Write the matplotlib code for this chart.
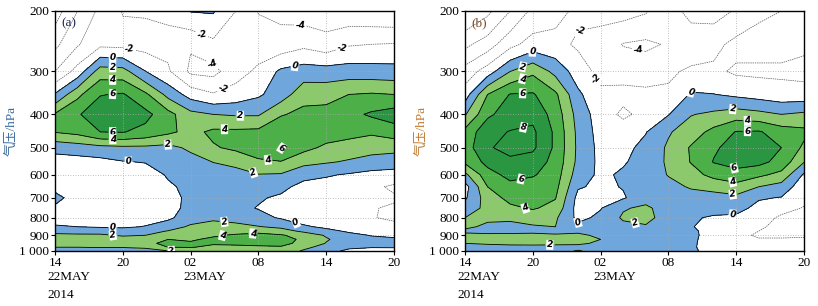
import numpy as np
import matplotlib
matplotlib.use("Agg")
import matplotlib.pyplot as plt

# hours after 22 May 2014 14:00 (BJT)
hours = [0, 2, 4, 6, 8, 10, 12, 14, 16, 18, 20, 22, 24, 26, 28, 30]
levels_hpa = [200, 250, 300, 350, 400, 450, 500, 550, 600, 650,
              700, 750, 800, 850, 875, 900, 925, 950, 975, 1000]

# one row per time column, values from 200 hPa down to 1000 hPa
vort_a = [
    [-9.0, -6.5, -4.0, 0.2, 4.2, 4.1, 0.6, -0.8, -0.8, -0.4, 0.4, -0.2, -0.8, 0.2, 1.4, 2.4, 3.0, 2.9, 2.0, 1.3],
    [-6.0, -4.2, -1.2, 3.5, 5.8, 4.6, 1.0, -0.8, -1.0, -1.0, -0.6, -0.6, -0.6, 0.0, 1.3, 2.3, 3.0, 3.0, 2.0, 1.3],
    [-3.5, -2.5, 3.0, 5.9, 7.2, 6.0, 1.4, -0.6, -1.0, -1.0, -0.8, -0.8, -0.6, -0.2, 1.2, 2.3, 3.0, 3.1, 2.1, 1.0],
    [-1.9, -2.6, 2.8, 6.2, 7.5, 6.1, 1.6, -0.1, -1.0, -1.2, -1.2, -1.0, -0.8, -0.3, 0.9, 1.8, 2.8, 3.0, 2.1, 0.9],
    [-1.8, -2.8, 0.05, 4.4, 6.6, 5.4, 1.6, 0.1, -1.0, -1.2, -1.2, -1.0, -0.8, 0.1, 1.2, 2.0, 3.2, 3.6, 2.4, 1.0],
    [-1.6, -2.6, -1.7, 1.4, 4.7, 4.4, 1.4, 0.1, 0.2, -0.3, -0.6, -0.5, -0.3, 0.8, 2.1, 2.9, 4.0, 4.4, 4.0, 1.9],
    [0.1, -3.8, -4.4, -0.8, 2.6, 3.4, 2.4, 1.2, 0.8, 0.5, 0.4, 0.4, 0.8, 2.4, 2.9, 3.3, 3.8, 4.2, 4.1, 2.3],
    [0.2, -2.5, -4.6, -1.8, 2.0, 4.4, 3.8, 2.05, 1.0, 0.6, 0.5, 0.6, 1.6, 2.8, 3.2, 3.8, 4.3, 4.2, 3.6, 2.4],
    [-2.0, -3.0, -2.8, -1.2, 1.8, 4.4, 4.4, 2.6, 1.2, 0.6, 0.4, 0.5, 1.2, 2.6, 3.4, 4.2, 4.5, 4.4, 3.5, 2.6],
    [-4.1, -3.0, -1.6, -0.3, 1.8, 4.5, 5.0, 3.7, 1.9, 0.8, 0.2, -0.1, 0.6, 2.1, 3.6, 4.4, 4.6, 4.5, 3.7, 2.8],
    [-4.5, -3.2, 0.4, 1.0, 3.8, 5.8, 6.1, 3.9, 1.8, 0.5, -0.3, -0.5, -0.2, 1.6, 2.8, 4.2, 4.4, 4.3, 3.9, 3.0],
    [-5.0, -2.5, 1.0, 3.2, 4.6, 5.4, 4.6, 2.6, 0.6, -0.6, -1.2, -1.4, -1.0, 0.3, 1.6, 3.2, 3.8, 3.7, 2.4, 1.8],
    [-5.2, -3.2, 0.9, 3.3, 4.7, 5.0, 3.6, 2.2, 0.2, -0.8, -1.4, -1.6, -1.4, -0.4, 0.6, 1.8, 2.2, 1.9, 1.4, 0.8],
    [-5.4, -2.2, 1.0, 4.0, 5.4, 4.8, 3.0, 1.8, -0.2, -1.2, -1.6, -1.8, -1.6, -0.8, -0.3, 0.6, 1.0, 0.8, 0.4, -0.5],
    [-5.6, -2.0, 0.9, 4.2, 6.3, 4.3, 2.8, 1.2, -0.6, -1.6, -1.9, -1.9, -1.9, -1.2, -0.7, -0.1, 0.5, 0.4, 0.1, -0.8],
    [-5.8, -1.9, 0.8, 4.0, 7.0, 5.0, 2.6, 1.0, -0.8, -2.3, -1.8, -2.2, -2.3, -1.5, -1.0, -0.4, 0.3, 0.5, 0.1, -0.6],
]

vort_b = [
    [-10.0, -6.5, -3.2, -1.0, 1.8, 4.6, 5.0, 4.4, 1.5, -0.8, -0.3, 0.8, 2.0, 2.4, 1.6, 2.5, 2.8, 2.0, 1.2, 0.8],
    [-8.5, -5.0, -1.0, 4.0, 5.6, 7.4, 7.8, 6.6, 5.2, 4.0, 3.0, 2.6, 2.4, 1.6, 1.4, 2.4, 2.8, 2.2, 1.4, 0.9],
    [-6.0, -2.6, 2.0, 6.1, 7.0, 8.1, 8.6, 7.6, 6.6, 5.4, 4.6, 3.6, 2.4, 1.4, 1.6, 2.3, 2.8, 2.4, 1.4, 1.0],
    [-3.5, -1.2, 3.6, 6.2, 7.4, 8.4, 8.4, 7.0, 6.2, 5.0, 4.6, 4.2, 2.8, 1.8, 1.6, 2.4, 2.8, 2.4, 1.5, 1.2],
    [-2.6, -1.4, 1.4, 4.4, 5.2, 5.6, 5.6, 5.4, 5.0, 4.6, 4.1, 3.4, 2.3, 2.0, 1.5, 2.2, 2.6, 2.3, 1.5, 1.6],
    [-1.6, -2.3, -1.0, 0.4, 1.2, 1.5, 1.6, 1.5, 1.0, 0.2, -0.6, -0.8, -0.5, 0.5, 1.6, 2.4, 2.6, 2.2, 1.6, 2.1],
    [-1.4, -2.8, -2.6, -1.6, -1.0, -0.8, -0.6, -0.5, -0.4, -0.4, -0.3, -0.1, 0.4, 0.8, 1.2, 1.6, 2.0, 1.8, 1.2, 1.6],
    [-1.2, -4.1, -2.8, -1.4, -2.4, -0.9, -0.6, -0.2, 0.3, 0.1, -0.2, 1.8, 2.3, 1.4, 1.2, 1.4, 1.6, 1.4, 1.0, 1.0],
    [-1.8, -4.4, -2.8, -1.6, -1.4, -0.1, 0.6, 0.8, 0.9, 0.9, 1.2, 2.4, 2.6, 1.8, 1.4, 1.2, 1.0, 0.8, 0.5, 0.4],
    [-3.6, -3.8, -2.4, -1.6, -0.1, 1.8, 2.3, 2.3, 2.1, 1.4, 1.0, 1.0, 1.1, 1.0, 0.9, 0.8, 0.7, 0.6, 0.4, 0.3],
    [-4.3, -3.4, -1.6, 0.2, 1.9, 3.0, 4.2, 4.1, 3.2, 2.2, 1.2, 0.8, 0.2, 0.1, 0.4, 0.5, 0.4, 0.3, 0.2, 0.2],
    [-4.8, -2.6, -1.6, 0.05, 2.4, 4.6, 5.7, 6.1, 4.6, 2.6, 1.3, 0.6, -0.2, -0.6, -0.8, -0.9, -0.9, -0.8, -0.6, -0.4],
    [-3.8, -1.4, -2.3, -0.4, 3.0, 6.1, 6.8, 6.6, 5.4, 3.2, 1.5, 0.7, -0.4, -1.0, -1.3, -1.6, -1.7, -1.6, -1.2, -0.8],
    [-2.4, -1.2, -2.4, -0.8, 2.6, 6.2, 6.8, 6.6, 4.4, 2.0, 0.2, -0.6, -1.2, -1.7, -2.0, -2.2, -1.9, -1.6, -1.2, -0.8],
    [-2.0, -1.2, -2.4, -1.2, 2.0, 5.0, 6.0, 5.3, 3.4, 1.2, -0.1, -1.4, -2.3, -2.6, -2.6, -2.4, -1.8, -1.4, -1.1, -0.8],
    [-1.5, -1.6, -2.6, -1.2, 2.4, 4.5, 3.6, 2.1, -0.3, -1.2, -1.6, -2.1, -2.5, -2.6, -2.6, -2.2, -1.8, -1.4, -1.1, -0.8],
]

xtick_hours = [0, 6, 12, 18, 24, 30]
xtick_labels = ["14", "20", "02", "08", "14", "20"]
ytick_hpa = [200, 300, 400, 500, 600, 700, 800, 900, 1000]
ytick_labels = ["200", "300", "400", "500", "600", "700", "800", "900", "1 000"]

line_levels = [-10, -8, -6, -4, -2, 0, 2, 4, 6, 8]
fill_levels = [0, 2, 4, 6, 100]
fill_colors = ["#6fa6dc", "#8cc86c", "#4caf48", "#2a9642"]

# label spots (hour, hPa)
spots_a = [(5.1, 272), (5.1, 288), (5.1, 306), (5.1, 345), (5.1, 452), (5.1, 482),
           (6.5, 550), (10.0, 490), (16.4, 410), (15.0, 438), (20.1, 505),
           (18.8, 556), (17.5, 598), (21.2, 280), (6.6, 262), (13.0, 232),
           (14.0, 275), (21.7, 228), (25.4, 256), (15.0, 345), (21.5, 812),
           (15.0, 818), (17.5, 885), (15.0, 925), (5.1, 866), (5.1, 905), (10.3, 999)]
spots_b = [(6.0, 268), (5.1, 290), (5.1, 315), (5.1, 342), (5.1, 422), (5.1, 640),
           (5.1, 775), (7.5, 945), (10.0, 825), (15.0, 835), (10.2, 228),
           (11.3, 325), (15.3, 266), (20.0, 342), (23.7, 385), (25.0, 413),
           (25.0, 442), (23.7, 590), (23.7, 626), (23.7, 682), (23.7, 788)]

serif = ["Liberation Serif", "Noto Sans CJK SC"]

fig = plt.figure(figsize=(8.18, 3.06), dpi=100)
axa = fig.add_axes([55 / 818, 1 - 251 / 306, 339 / 818, 240 / 306])
axb = fig.add_axes([465 / 818, 1 - 251 / 306, 339 / 818, 240 / 306])

T, P = np.meshgrid(hours, levels_hpa)

def draw(ax, field, tag, tagcolor, labcolor, spots):
    Z = np.array(field).T
    ax.contourf(T, P, Z, levels=fill_levels, colors=fill_colors)
    styles = [(0, (2.0, 1.2)) if v < 0 else "solid" for v in line_levels]
    cols = ["#555555" if v < 0 else "k" for v in line_levels]
    lws = [0.5 if v < 0 else 0.6 for v in line_levels]
    cs = ax.contour(T, P, Z, levels=line_levels, colors=cols,
                    linestyles=styles, linewidths=lws)
    txts = ax.clabel(cs, manual=spots, inline=True, inline_spacing=2,
                     fmt=lambda v: "%d" % v, fontsize=6.5)
    for t in txts:
        t.set_fontweight("bold")
        t.set_fontstyle("italic")
        t.set_color("k")
        t.set_bbox(dict(boxstyle="square,pad=0.05", fc="white", ec="none"))

    ax.set_yscale("log")
    ax.set_ylim(1000, 200)
    ax.set_xlim(0, 30)
    ax.set_yticks(ytick_hpa)
    ax.set_yticklabels(ytick_labels, family=serif, fontsize=9.5)
    ax.yaxis.set_minor_locator(matplotlib.ticker.NullLocator())
    ax.set_xticks(xtick_hours)
    ax.set_xticklabels(xtick_labels, family=serif, fontsize=9.5)
    ax.tick_params(direction="out", length=3, width=0.8, pad=1)
    ax.grid(True, color="#aaaaaa", linestyle=(0, (1, 2)), linewidth=0.6)
    for s in ax.spines.values():
        s.set_linewidth(1.0)
    ax.text(0.02, 0.975, tag, transform=ax.transAxes, ha="left", va="top",
            family=serif, fontsize=9.5, color=tagcolor)
    ax.set_ylabel("气压/hPa", family=serif, fontsize=9.5, color=labcolor, labelpad=2)
    ax.text(-0.022, -0.085, "22MAY", transform=ax.transAxes, ha="left", va="top",
            family=serif, fontsize=9.5)
    ax.text(-0.022, -0.16, "2014", transform=ax.transAxes, ha="left", va="top",
            family=serif, fontsize=9.5)
    ax.text(0.378, -0.085, "23MAY", transform=ax.transAxes, ha="left", va="top",
            family=serif, fontsize=9.5)

draw(axa, vort_a, "(a)", "#1e2a55", "#3a6a9c", spots_a)
draw(axb, vort_b, "(b)", "#7a4c22", "#c07a30", spots_b)

fig.savefig("out.png", dpi=100)
